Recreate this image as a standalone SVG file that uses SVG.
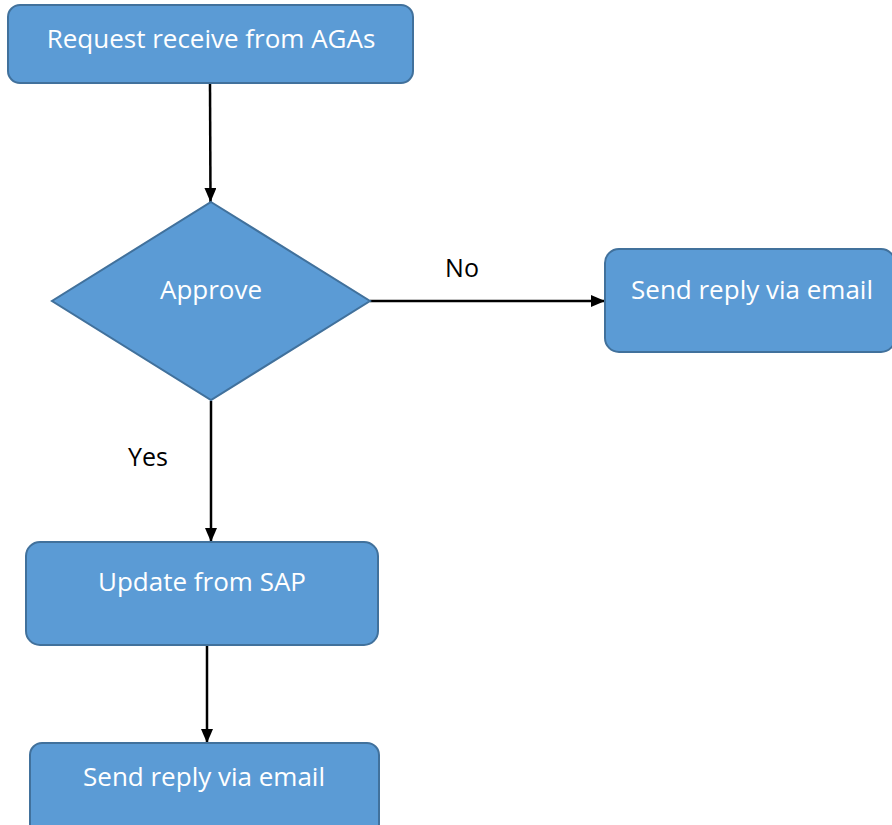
<svg xmlns="http://www.w3.org/2000/svg" width="892" height="825" viewBox="0 0 892 825">
<style>
.shape{fill:#5b9bd5;stroke:#41719c;stroke-width:2}
.t{font-family:"Open Sans","Noto Sans","Liberation Sans",sans-serif;font-size:26px;fill:#ffffff;text-anchor:middle}
.lbl{font-family:"Open Sans","Noto Sans","Liberation Sans",sans-serif;font-size:25px;fill:#000000;text-anchor:middle}
.c{stroke:#000;stroke-width:2.5;fill:none;marker-end:url(#ah)}
</style>
<defs>
<marker id="ah" viewBox="0 0 14 12" refX="14" refY="6" markerWidth="14" markerHeight="12" markerUnits="userSpaceOnUse" orient="auto">
<path d="M0,0 L14,6 L0,12 z" fill="#000"/>
</marker>
</defs>
<g id="connectors">
<line class="c" x1="210" y1="84" x2="210.5" y2="202"/>
<line class="c" x1="370" y1="301" x2="605" y2="301"/>
<line class="c" x1="211" y1="401" x2="211" y2="542"/>
<line class="c" x1="207" y1="645" x2="207" y2="743"/>
<text class="lbl" x="462" y="277">No</text>
<text class="lbl" x="148" y="466">Yes</text>
</g>
<g id="n1">
<rect class="shape" x="8" y="5" width="405" height="78" rx="12"/>
<text class="t" x="211" y="48">Request receive from AGAs</text>
</g>
<g id="n2">
<polygon class="shape" points="211,202 370,301 211,400 52,301"/>
<text class="t" x="211" y="299">Approve</text>
</g>
<g id="n3">
<rect class="shape" x="605" y="249" width="290" height="103" rx="14"/>
<text class="t" x="752" y="299">Send reply via email</text>
</g>
<g id="n4">
<rect class="shape" x="26" y="542" width="352" height="103" rx="14"/>
<text class="t" x="202" y="591">Update from SAP</text>
</g>
<g id="n5">
<rect class="shape" x="30" y="743" width="349" height="100" rx="12"/>
<text class="t" x="204" y="786">Send reply via email</text>
</g>
</svg>
